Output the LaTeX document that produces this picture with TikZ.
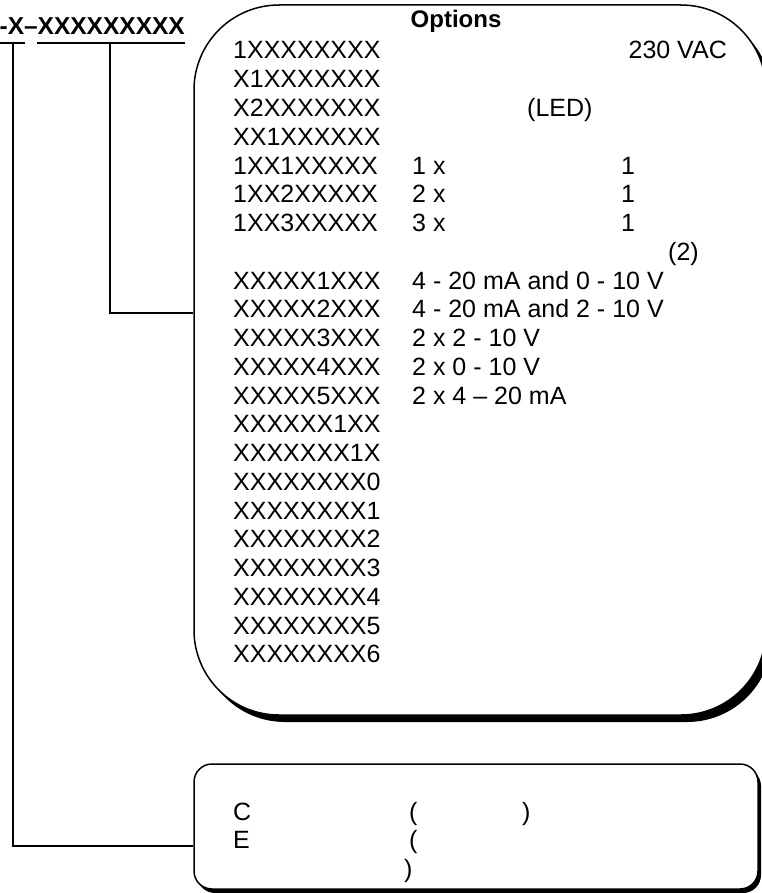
\documentclass[tikz,border=0pt]{standalone}
\usepackage{fontspec}
\setmainfont{Liberation Sans}
\usetikzlibrary{shadows}
\begin{document}
\begin{tikzpicture}[x=1pt,y=-1pt,
  lbl/.style={anchor=base west, inner sep=0pt, font=\fontsize{25}{30}\selectfont},
  lble/.style={anchor=base east, inner sep=0pt, font=\fontsize{25}{30}\selectfont},
  conn/.style={line width=1.5pt},
  bigbox/.style={draw, line width=1.5pt, fill=white, rounded corners=85pt,
    drop shadow={fill=black, opacity=1, shadow xshift=6pt, shadow yshift=-7pt}},
  smallbox/.style={draw, line width=1.5pt, fill=white, rounded corners=18pt,
    drop shadow={fill=black, opacity=1, shadow xshift=3pt, shadow yshift=-4pt}}]
\useasboundingbox (0,0) rectangle (761,893);

% title
\node[anchor=base east, inner sep=0pt, font=\fontsize{24.5}{28}\selectfont\bfseries] (title) at (185,35) {-X\textendash XXXXXXXXX};
\coordinate (u1a) at (0,43);
\coordinate (u1b) at (25,43);
\coordinate (u2a) at (37,43);
\coordinate (u2b) at (185,43);
\coordinate (t1) at (13,43);
\coordinate (t2) at (110,43);
\draw[conn] (u1a) -- (u1b);
\draw[conn] (u2a) -- (u2b);

% boxes
\node[bigbox, minimum width=572pt, minimum height=710pt, inner sep=0pt] (opt) at (480,360) {};
\node[smallbox, minimum width=564pt, minimum height=125pt, inner sep=0pt] (sbox) at (476,826.5) {};

% connectors
\coordinate (j2) at (110,313);
\coordinate (j1) at (13,846);
\draw[conn] (t2) -- (j2) -- (j2 -| opt.west);
\draw[conn] (t1) -- (j1) -- (j1 -| sbox.west);

% header
\node[anchor=base, inner sep=0pt, font=\fontsize{24}{28}\selectfont\bfseries] (hdr) at (456,28) {Options};

% first column
\foreach \k/\t in {0/1XXXXXXXX,1/X1XXXXXXX,2/X2XXXXXXX,3/XX1XXXXXX,4/1XX1XXXXX,5/1XX2XXXXX,6/1XX3XXXXX,
  8/XXXXX1XXX,9/XXXXX2XXX,10/XXXXX3XXX,11/XXXXX4XXX,12/XXXXX5XXX,13/XXXXXX1XX,14/XXXXXXX1X,
  15/XXXXXXXX0,16/XXXXXXXX1,17/XXXXXXXX2,18/XXXXXXXX3,19/XXXXXXXX4,20/XXXXXXXX5,21/XXXXXXXX6}
  \node[lbl] (c\k) at (233,{59+28.76*\k}) {\t};

% second column
\foreach \k/\t in {4/1 x,5/2 x,6/3 x,8/4 - 20 mA and 0 - 10 V,9/4 - 20 mA and 2 - 10 V,
  10/2 x 2 - 10 V,11/2 x 0 - 10 V,12/2 x 4 \textendash{} 20 mA}
  \node[lbl] (d\k) at (412,{59+28.76*\k}) {\t};

\foreach \k in {4,5,6}
  \node[lbl] (e\k) at (621,{59+28.76*\k}) {1};

\node[lble] (vac) at (727,59) {230 VAC};
\node[lbl] (led) at (527,{59+28.76*2}) {(LED)};
\node[lbl] (two) at (668,{59+28.76*7}) {(2)};

% bottom box text
\node[lbl] (bc) at (233,820) {C};
\node[lbl] (be) at (233,848) {E};
\node[lbl] (p1) at (409,820) {(};
\node[lbl] (p2) at (522,820) {)};
\node[lbl] (p3) at (409,848) {(};
\node[lbl] (p4) at (404,877) {)};
\end{tikzpicture}
\end{document}
